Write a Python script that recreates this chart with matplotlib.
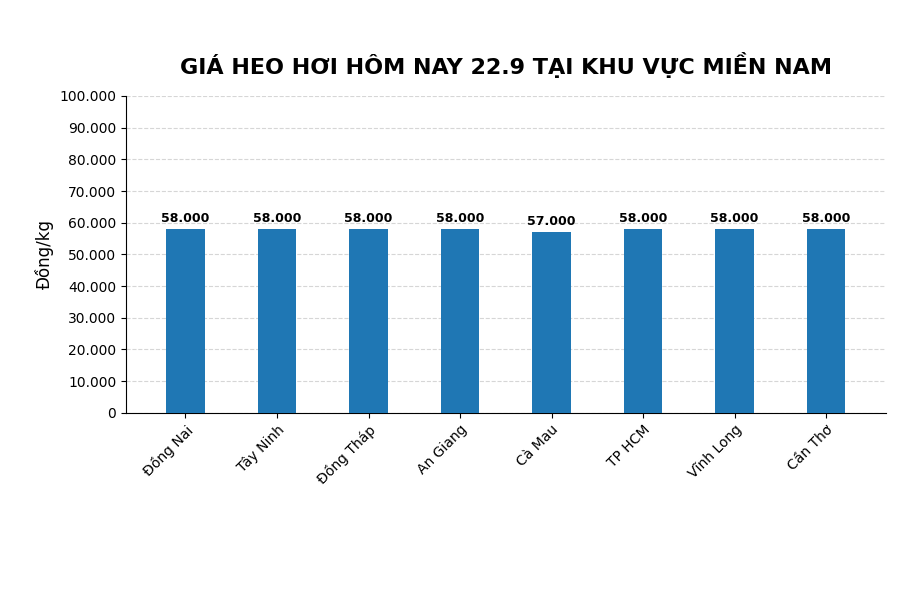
import matplotlib
matplotlib.use("Agg")
import matplotlib.pyplot as plt
from matplotlib.ticker import FuncFormatter

categories = ["Đồng Nai", "Tây Ninh", "Đồng Tháp", "An Giang", "Cà Mau", "TP HCM", "Vĩnh Long", "Cần Thơ"]
values = [58000, 58000, 58000, 58000, 57000, 58000, 58000, 58000]

fig = plt.figure(figsize=(9, 6), dpi=100)
ax = fig.add_axes([0.14, 0.312, 0.844, 0.528])
x = range(len(categories))
ax.bar(x, values, width=0.42, color="#1f77b4", zorder=3)
fmt = lambda v: f"{int(v):,}".replace(",", ".")
for i, v in zip(x, values):
    ax.text(i, v + 1200, fmt(v), ha="center", va="bottom", fontsize=9, fontweight="bold")
ax.set_xlim(-0.65, 7.65)
ax.set_ylim(0, 100000)
ax.set_yticks(range(0, 100001, 10000))
ax.yaxis.set_major_formatter(FuncFormatter(lambda v, p: fmt(v)))
ax.set_xticks(list(x))
ax.set_xticklabels(categories, rotation=45, ha="right", rotation_mode="anchor")
ax.grid(axis="y", linestyle="--", color="#cccccc", alpha=0.8, zorder=0)
ax.spines["top"].set_visible(False)
ax.spines["right"].set_visible(False)
ax.set_ylabel("Đồng/kg", fontsize=12)
ax.set_title("GIÁ HEO HƠI HÔM NAY 22.9 TẠI KHU VỰC MIỀN NAM", fontsize=16, fontweight="bold", pad=16)
fig.savefig("out.png", dpi=100)
